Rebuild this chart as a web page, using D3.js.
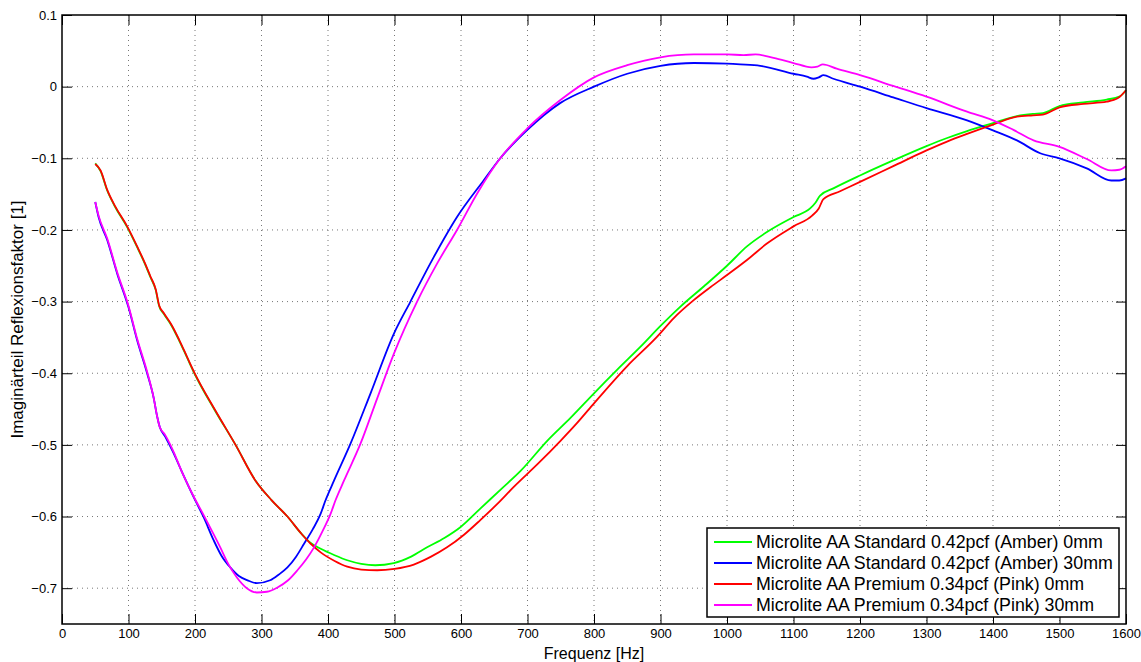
<!DOCTYPE html>
<html>
<head>
<meta charset="utf-8">
<script src="https://cdn.jsdelivr.net/npm/d3@7"></script>
<style>
  body { margin: 0; background: #fff; }
  text { font-family: "Liberation Sans", Arial, Helvetica, sans-serif; fill: #000; }
</style>
</head>
<body>
<div id="chart"></div>
<script>
// reflection factor (imaginary part) vs frequency, 4 absorber configurations

var xTicks = [0, 100, 200, 300, 400, 500, 600, 700, 800, 900, 1000, 1100, 1200, 1300, 1400, 1500, 1600];
var yTicks = [0.1, 0, -0.1, -0.2, -0.3, -0.4, -0.5, -0.6, -0.7];

var seriesNames = [
  "Microlite AA Standard 0.42pcf (Amber) 0mm",
  "Microlite AA Standard 0.42pcf (Amber) 30mm",
  "Microlite AA Premium 0.34pcf (Pink) 0mm",
  "Microlite AA Premium 0.34pcf (Pink) 30mm"
];
var seriesColors = ["#00ff00", "#0000ff", "#ff0000", "#ff00ff"];

// [frequency Hz, imaginary part]
var amber0 = [[50,-0.107],[58,-0.118],[68,-0.145],[80,-0.168],[98,-0.196],[113,-0.224],[125,-0.248],
  [133,-0.266],[141,-0.284],[146,-0.306],[153,-0.317],[165,-0.334],[176,-0.354],[188,-0.378],[199,-0.4],
  [230,-0.452],[261,-0.5],[291,-0.55],[315,-0.577],[339,-0.6],[360,-0.624],[374,-0.637],[389,-0.645],
  [410,-0.654],[429,-0.661],[450,-0.666],[471,-0.668],[499,-0.665],[525,-0.656],[549,-0.643],[575,-0.63],
  [599,-0.615],[629,-0.589],[660,-0.562],[690,-0.536],[730,-0.494],[765,-0.462],[800,-0.428],[835,-0.395],
  [870,-0.363],[900,-0.334],[930,-0.307],[965,-0.279],[1000,-0.25],[1030,-0.223],[1060,-0.203],
  [1100,-0.182],[1125,-0.17],[1133,-0.162],[1140,-0.152],[1160,-0.142],[1200,-0.124],[1250,-0.103],
  [1300,-0.083],[1330,-0.072],[1361,-0.062],[1400,-0.051],[1436,-0.041],[1460,-0.038],[1475,-0.037],
  [1500,-0.027],[1536,-0.022],[1571,-0.018],[1590,-0.014],[1600,-0.005]];

var amber30 = [[50,-0.161],[55,-0.182],[68,-0.214],[83,-0.261],[100,-0.308],[113,-0.354],[128,-0.4],
  [138,-0.435],[143,-0.46],[147,-0.475],[155,-0.488],[168,-0.512],[180,-0.537],[198,-0.573],[213,-0.601],
  [228,-0.633],[240,-0.655],[253,-0.671],[266,-0.683],[279,-0.689],[293,-0.693],[313,-0.689],[326,-0.681],
  [339,-0.671],[352,-0.656],[364,-0.638],[377,-0.618],[389,-0.596],[396,-0.578],[409,-0.55],[434,-0.498],
  [464,-0.428],[499,-0.345],[524,-0.3],[559,-0.238],[594,-0.182],[634,-0.131],[659,-0.1],[699,-0.061],
  [749,-0.023],[800,0.0],[850,0.018],[900,0.029],[950,0.033],[1000,0.032],[1020,0.031],[1050,0.029],
  [1100,0.018],[1120,0.014],[1130,0.011],[1138,0.013],[1145,0.016],[1160,0.011],[1200,0.0],[1250,-0.015],
  [1300,-0.03],[1361,-0.047],[1400,-0.061],[1436,-0.075],[1471,-0.093],[1500,-0.1],[1541,-0.114],
  [1578,-0.131],[1590,-0.131],[1600,-0.128]];

var pink0 = [[50,-0.108],[58,-0.117],[68,-0.144],[80,-0.167],[98,-0.195],[113,-0.223],[125,-0.247],
  [133,-0.265],[141,-0.283],[146,-0.305],[153,-0.316],[165,-0.333],[176,-0.353],[188,-0.377],[199,-0.399],
  [230,-0.451],[261,-0.5],[291,-0.55],[315,-0.577],[339,-0.6],[360,-0.624],[374,-0.638],[389,-0.65],
  [410,-0.662],[429,-0.67],[450,-0.674],[474,-0.675],[500,-0.673],[529,-0.667],[555,-0.656],[579,-0.643],
  [605,-0.625],[629,-0.605],[655,-0.582],[679,-0.559],[715,-0.527],[750,-0.494],[775,-0.469],[800,-0.442],
  [850,-0.39],[895,-0.349],[920,-0.323],[950,-0.298],[975,-0.28],[1000,-0.263],[1030,-0.242],[1060,-0.219],
  [1100,-0.195],[1128,-0.18],[1138,-0.17],[1145,-0.157],[1170,-0.146],[1200,-0.133],[1250,-0.111],
  [1300,-0.089],[1330,-0.077],[1361,-0.066],[1400,-0.053],[1436,-0.042],[1460,-0.04],[1475,-0.039],
  [1500,-0.029],[1536,-0.024],[1571,-0.021],[1588,-0.016],[1600,-0.005]];

var pink30 = [[50,-0.161],[55,-0.18],[68,-0.212],[83,-0.259],[100,-0.306],[113,-0.352],[128,-0.398],
  [138,-0.435],[143,-0.46],[147,-0.475],[155,-0.486],[168,-0.51],[180,-0.537],[198,-0.572],[213,-0.598],
  [238,-0.643],[250,-0.666],[263,-0.685],[278,-0.7],[293,-0.706],[308,-0.705],[324,-0.699],[340,-0.689],
  [354,-0.675],[367,-0.66],[379,-0.643],[392,-0.62],[404,-0.596],[411,-0.578],[424,-0.55],[449,-0.498],
  [474,-0.435],[499,-0.373],[534,-0.3],[564,-0.247],[594,-0.2],[625,-0.148],[659,-0.1],[700,-0.058],
  [749,-0.019],[800,0.013],[850,0.03],[900,0.041],[950,0.045],[1000,0.045],[1025,0.044],[1043,0.045],
  [1070,0.04],[1100,0.033],[1127,0.027],[1136,0.028],[1144,0.031],[1165,0.025],[1200,0.016],[1250,0.001],
  [1300,-0.014],[1361,-0.035],[1400,-0.047],[1430,-0.06],[1461,-0.075],[1500,-0.084],[1541,-0.101],
  [1578,-0.117],[1590,-0.116],[1600,-0.111]];

var allSeries = [amber0, amber30, pink0, pink30];


var margin = { top: 15, right: 15, bottom: 38, left: 62 };
var width = 1141, height = 662;
var plotW = width - margin.left - margin.right;
var plotH = height - margin.top - margin.bottom;

var svg = d3.select("#chart").append("svg")
  .attr("width", width)
  .attr("height", height);

var x = d3.scaleLinear().domain([0, 1600]).range([0, plotW]);
var y = d3.scaleLinear().domain([-0.75, 0.1]).range([plotH, 0]);

var g = svg.append("g")
  .attr("transform", "translate(" + margin.left + "," + margin.top + ")");

// dotted grid
g.selectAll(".vgrid").data(xTicks.slice(1, -1)).enter()
  .append("line")
    .attr("class", "vgrid")
    .attr("x1", function (d) { return x(d); })
    .attr("x2", function (d) { return x(d); })
    .attr("y1", 0).attr("y2", plotH)
    .attr("stroke", "#777").attr("stroke-dasharray", "1,4");

g.selectAll(".hgrid").data(yTicks.slice(1)).enter()
  .append("line")
    .attr("class", "hgrid")
    .attr("x1", 0).attr("x2", plotW)
    .attr("y1", function (d) { return y(d); })
    .attr("y2", function (d) { return y(d); })
    .attr("stroke", "#777").attr("stroke-dasharray", "1,4");

// curves
var line = d3.line()
  .x(function (d) { return x(d[0]); })
  .y(function (d) { return y(d[1]); })
  .curve(d3.curveMonotoneX);

g.selectAll(".curve").data(allSeries).enter()
  .append("path")
    .attr("class", "curve")
    .attr("d", line)
    .attr("fill", "none")
    .attr("stroke", function (d, i) { return seriesColors[i]; })
    .attr("stroke-width", 1.8);

// axes, matlab style: ticks inside on all four sides
var fmt = function (d) { return d === 0 ? "0" : d3.format(".1f")(d).replace("-", "\u2212"); };

var xAxis = g.append("g")
  .attr("transform", "translate(0," + plotH + ")")
  .call(d3.axisBottom(x).tickValues(xTicks).tickSize(-10).tickPadding(5).tickFormat(d3.format("d")));
var xTop = g.append("g")
  .call(d3.axisTop(x).tickValues(xTicks).tickSize(-10).tickFormat(""));
var yAxis = g.append("g")
  .call(d3.axisLeft(y).tickValues(yTicks).tickSize(-10).tickPadding(5).tickFormat(fmt));
var yRight = g.append("g")
  .attr("transform", "translate(" + plotW + ",0)")
  .call(d3.axisRight(y).tickValues(yTicks).tickSize(-10).tickFormat(""));

[xAxis, xTop, yAxis, yRight].forEach(function (a) {
  a.select(".domain").remove();
  a.selectAll(".tick line").attr("stroke", "#000");
  a.selectAll("text").attr("font-size", "13px").attr("fill", "#000");
});

g.append("rect")
  .attr("width", plotW).attr("height", plotH)
  .attr("fill", "none").attr("stroke", "#000").attr("stroke-width", 1.5);

// axis titles
svg.append("text")
  .attr("x", margin.left + plotW / 2)
  .attr("y", 659)
  .attr("text-anchor", "middle")
  .attr("font-size", "16px")
  .text("Frequenz [Hz]");

svg.append("text")
  .attr("transform", "translate(23," + (margin.top + plotH / 2) + ") rotate(-90)")
  .attr("text-anchor", "middle")
  .attr("font-size", "17px")
  .text("Imaginärteil Reflexionsfaktor [1]");

// legend
var legend = svg.append("g").attr("transform", "translate(707,528)");
legend.append("rect")
  .attr("width", 412).attr("height", 89)
  .attr("fill", "#fff").attr("stroke", "#000").attr("stroke-width", 1.5);

var rows = legend.selectAll(".row").data(seriesNames).enter()
  .append("g")
    .attr("class", "row")
    .attr("transform", function (d, i) { return "translate(0," + (14 + 21 * i) + ")"; });

rows.append("line")
  .attr("x1", 7).attr("x2", 45)
  .attr("stroke", function (d, i) { return seriesColors[i]; })
  .attr("stroke-width", 1.8);

rows.append("text")
  .attr("x", 49)
  .attr("dy", "0.35em")
  .attr("font-size", "17.8px")
  .text(function (d) { return d; });
</script>
</body>
</html>
